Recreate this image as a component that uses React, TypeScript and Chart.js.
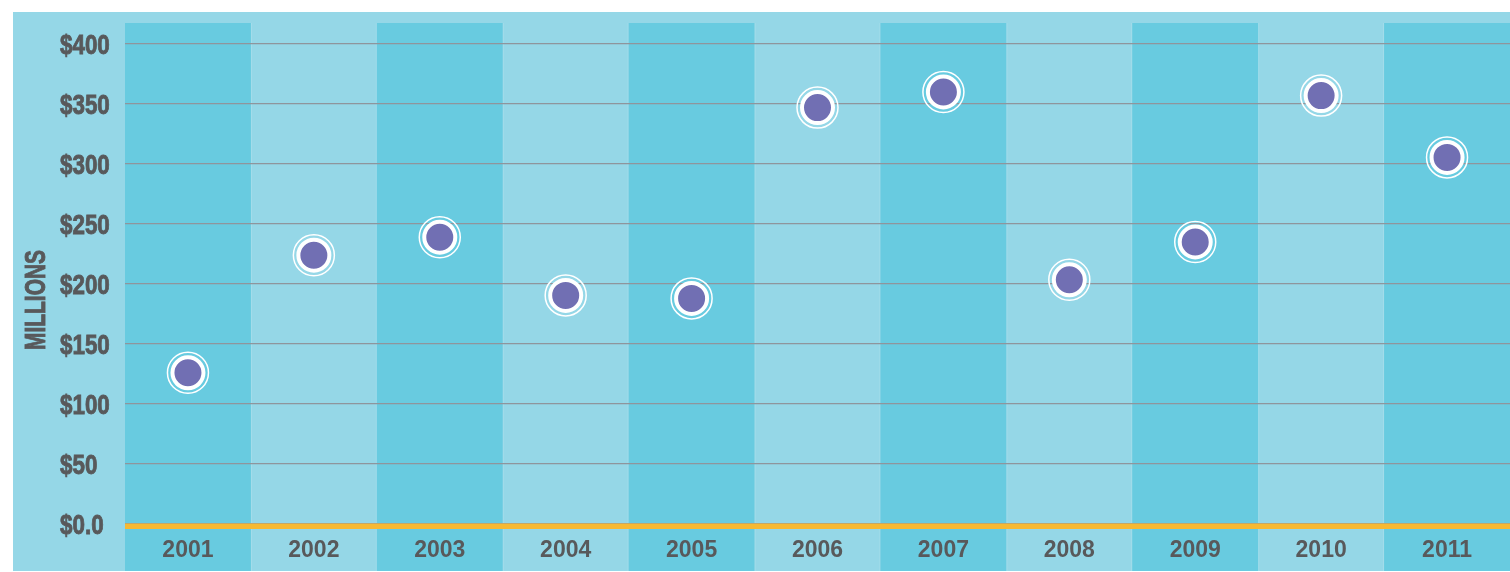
import { useEffect, useRef } from 'react';
import { Chart, registerables } from 'chart.js';

Chart.register(...registerables);

const categories = ['2001', '2002', '2003', '2004', '2005', '2006', '2007', '2008', '2009', '2010', '2011'];
const values = [126, 224, 239, 190.5, 188, 347, 360, 203.5, 235, 357, 305.5];
const yTickValues = [0, 50, 100, 150, 200, 250, 300, 350, 400];
const yTickLabels = ['$0.0', '$50', '$100', '$150', '$200', '$250', '$300', '$350', '$400'];
const yAxisTitle = 'MILLIONS';

const LIGHT = '#95d7e7';
const DARK = '#68cbe0';
const TEXT = '#58595b';
const GRID = '#8f959c';
const ORANGE = '#f6b933';
const PURPLE = '#716fb3';
const SANS = '"Liberation Sans", Arial, sans-serif';

const bgPlugin = {
  id: 'bgPlugin',
  beforeDraw(chart: any) {
    const { ctx, chartArea, scales, width, height } = chart;
    ctx.save();
    ctx.fillStyle = '#ffffff';
    ctx.fillRect(0, 0, width, height);
    ctx.fillStyle = LIGHT;
    ctx.fillRect(13, 12, width - 13, height - 1 - 12);
    const xs = scales.x;
    const n = categories.length;
    const w = (chartArea.right - chartArea.left) / n;
    for (let i = 0; i < n; i++) {
      const c = xs.getPixelForValue(i);
      if (i % 2 === 0) {
        ctx.fillStyle = DARK;
        ctx.fillRect(c - w / 2, chartArea.top, w, height - 1 - chartArea.top);
      } else {
        ctx.fillStyle = 'rgba(255,255,255,0.15)';
        ctx.fillRect(c - w / 2, chartArea.top, 1, height - 1 - chartArea.top);
        ctx.fillRect(c + w / 2 - 1, chartArea.top, 1, height - 1 - chartArea.top);
      }
    }
    ctx.restore();
  },
  beforeDatasetsDraw(chart: any) {
    const { ctx, chartArea, scales } = chart;
    const y0 = scales.y.getPixelForValue(0);
    ctx.save();
    ctx.fillStyle = ORANGE;
    ctx.fillRect(chartArea.left, y0 - 0.5, chartArea.right - chartArea.left, 5.5);
    ctx.restore();
  },
  afterDraw(chart: any) {
    const { ctx, scales } = chart;
    // y tick labels (condensed, left aligned)
    ctx.save();
    ctx.font = 'bold 28px ' + SANS;
    ctx.fillStyle = TEXT;
    ctx.strokeStyle = TEXT;
    ctx.lineWidth = 0.9;
    ctx.textAlign = 'left';
    ctx.textBaseline = 'alphabetic';
    yTickValues.forEach((v, i) => {
      const y = scales.y.getPixelForValue(v);
      ctx.save();
      ctx.translate(60, y + 10);
      ctx.scale(0.8, 1);
      ctx.fillText(yTickLabels[i], 0, 0);
      ctx.strokeText(yTickLabels[i], 0, 0);
      ctx.restore();
    });
    ctx.restore();
    // axis title
    ctx.save();
    ctx.translate(45, 300);
    ctx.rotate(-Math.PI / 2);
    ctx.font = 'bold 29px ' + SANS;
    const tw = ctx.measureText(yAxisTitle).width;
    ctx.scale(100 / tw, 1);
    ctx.fillStyle = TEXT;
    ctx.strokeStyle = TEXT;
    ctx.lineWidth = 0.9;
    ctx.textAlign = 'center';
    ctx.textBaseline = 'alphabetic';
    ctx.fillText(yAxisTitle, 0, 0);
    ctx.strokeText(yAxisTitle, 0, 0);
    ctx.restore();
  },
};

export default function App() {
  const ref = useRef<HTMLCanvasElement | null>(null);

  useEffect(() => {
    const canvas = ref.current;
    if (!canvas) return;
    const chart = new Chart(canvas, {
      type: 'line',
      data: {
        labels: categories,
        datasets: [
          {
            data: values,
            showLine: false,
            pointRadius: 15.5,
            pointHoverRadius: 15.5,
            pointBorderWidth: 4,
            pointBackgroundColor: PURPLE,
            pointBorderColor: '#ffffff',
            clip: false,
          },
          {
            data: values,
            showLine: false,
            pointRadius: 20.5,
            pointHoverRadius: 20.5,
            pointBorderWidth: 1.5,
            pointBackgroundColor: 'rgba(0,0,0,0)',
            pointBorderColor: '#ffffff',
            clip: false,
          },
        ],
      },
      plugins: [bgPlugin],
      options: {
        animation: false,
        responsive: false,
        devicePixelRatio: 1,
        layout: { autoPadding: false, padding: { left: 60, top: 23, right: 0, bottom: 0 } },
        plugins: {
          legend: { display: false },
          tooltip: { enabled: false },
        },
        scales: {
          x: {
            type: 'category',
            offset: true,
            grid: { display: false },
            border: { display: false },
            ticks: {
              color: TEXT,
              padding: 5,
              maxRotation: 0,
              font: { family: SANS, weight: 'bold', size: 23 },
            },
            afterFit(s: any) {
              s.height = 48;
            },
          },
          y: {
            min: 0,
            max: 417.5,
            grid: { color: GRID, lineWidth: 1.3, drawTicks: false },
            border: { display: false },
            afterBuildTicks(s: any) {
              s.ticks = yTickValues.map((v) => ({ value: v }));
            },
            ticks: { display: false },
            afterFit(s: any) {
              s.width = 65;
            },
          },
        },
      },
    } as any);
    return () => chart.destroy();
  }, []);

  return (
    <canvas
      ref={ref}
      width={1510}
      height={572}
      style={{ position: 'fixed', left: 0, top: 0, width: 1510, height: 572, display: 'block' }}
    />
  );
}
